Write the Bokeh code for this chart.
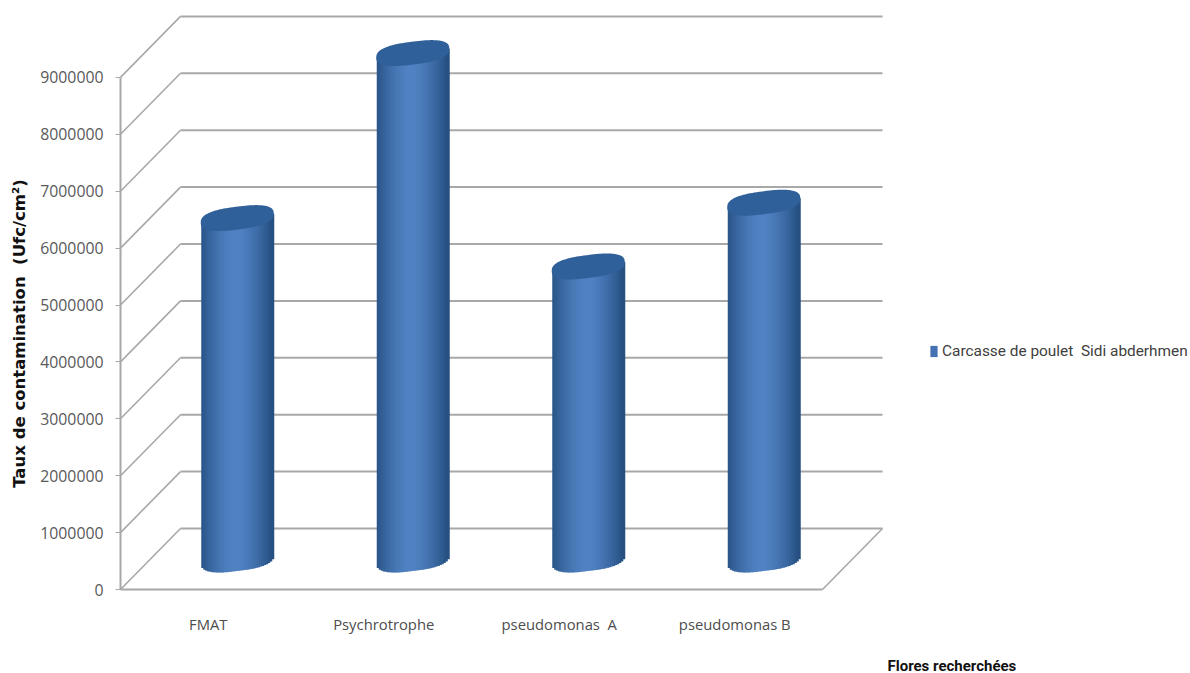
import numpy as np
from bokeh.embed import file_html
from bokeh.models import FixedTicker, Label, Legend, LegendItem, Range1d
from bokeh.plotting import figure
from bokeh.resources import INLINE

categories = ["FMAT", "Psychrotrophe", "pseudomonas\u00a0\u00a0A", "pseudomonas B"]
values = [6000000, 8900000, 5150000, 6270000]
y_ticks = list(range(0, 10000000, 1000000))
series_name = "Carcasse de poulet\u00a0\u00a0Sidi abderhmen"

# Canvas size and the pixel position of the box's front lower left corner
W, H = 1190, 673
ORIGIN_X, ORIGIN_Y = 120, 589
CAT_PX = 175.5          # pixel width of one category
UNIT_PX = 56.9 / 1e6    # pixels per unit of contamination
DEPTH_X, DEPTH_Y = 60, 61


def px_x(px):
    return px / CAT_PX


def px_y(px):
    return px / UNIT_PX


# The frame fills the canvas; both axes are pinned to data positions inside it
p = figure(
    width=W, height=H, output_backend="svg", toolbar_location=None,
    x_range=Range1d(px_x(-ORIGIN_X), px_x(W - ORIGIN_X)),
    y_range=Range1d(px_y(ORIGIN_Y - H), px_y(ORIGIN_Y)),
    min_border=0, outline_line_color=None, background_fill_color="white",
)
p.grid.visible = False

GRID = "#a8a8a8"
n = len(categories)
dx, dy = px_x(DEPTH_X), px_y(DEPTH_Y)

# Back wall, side wall and floor of the 3D box
for t in y_ticks:
    p.line([dx, n + dx], [t + dy, t + dy], line_color=GRID, line_width=2)
    p.line([0, dx], [t, t + dy], line_color=GRID, line_width=1.6)
p.line([n, n + dx], [0, dy], line_color=GRID, line_width=1.6)

# Cylinders: shaded vertical strips closed by a sheared rounded cap and base
HALF_W = 36
MINOR = 11.5
TILT = 4.5
ROUND = 2.6
STRIPS = 36
edges = np.linspace(-1, 1, STRIPS + 1)
mids = (edges[:-1] + edges[1:]) / 2


def rim(u):
    return (1 - np.clip(np.abs(u), 0, 1) ** ROUND) ** (1 / ROUND)


def shade(u):
    # dark at both rims, brightest slightly left of centre
    k = np.clip(1 - abs(u + 0.05) ** 1.6, 0, 1)
    dark = np.array([38, 80, 130])
    light = np.array([81, 131, 196])
    c = dark + (light - dark) * k
    return "#%02x%02x%02x" % tuple(int(v) for v in c)


centres = [i + 0.5 + px_x(29) for i in range(n)]
base = px_y(30)
theta = np.linspace(0, 2 * np.pi, 120)
for cx, v in zip(centres, values):
    lefts = cx + edges[:-1] * px_x(HALF_W)
    rights = cx + edges[1:] * px_x(HALF_W) + px_x(1)
    bottoms = base - px_y(MINOR * rim(mids)) + px_y(TILT * mids)
    tops = v + base + px_y(TILT * mids)
    p.quad(left=lefts, right=rights, bottom=bottoms, top=tops,
           fill_color=[shade(u) for u in mids], line_color=None)
    cu = np.sign(np.cos(theta)) * np.abs(np.cos(theta)) ** (2 / ROUND)
    sv = np.sign(np.sin(theta)) * np.abs(np.sin(theta)) ** (2 / ROUND)
    p.patch(cx + cu * px_x(HALF_W + 0.5),
            v + base + px_y(MINOR * sv + TILT * cu),
            fill_color="#30609a", line_color=None)

swatch = p.vbar(x=[centres[0]], width=0, bottom=[0], top=[0],
                fill_color="#4472b4", line_color=None)

# Axes
yaxis = p.yaxis[0]
yaxis.fixed_location = 0
yaxis.ticker = FixedTicker(ticks=y_ticks)
yaxis.bounds = (0, y_ticks[-1])
yaxis.formatter.use_scientific = False
yaxis.axis_line_color = GRID
yaxis.axis_line_width = 2
yaxis.major_tick_line_color = GRID
yaxis.major_tick_in = 0
yaxis.major_tick_out = 5
yaxis.minor_tick_line_color = None
yaxis.major_label_text_font = "Open Sans"
yaxis.major_label_text_font_size = "15.8px"
yaxis.major_label_text_color = "#595959"
yaxis.major_label_standoff = 12
yaxis.axis_label = "Taux de contamination\u00a0\u00a0(Ufc/cm²)"
yaxis.axis_label_text_font = "DejaVu Sans"
yaxis.axis_label_text_font_style = "bold"
yaxis.axis_label_text_font_size = "16.5px"
yaxis.axis_label_text_color = "#111111"
yaxis.axis_label_standoff = 8

xaxis = p.xaxis[0]
xaxis.fixed_location = 0
positions = [i + 0.5 for i in range(n)]
xaxis.ticker = FixedTicker(ticks=positions)
xaxis.major_label_overrides = dict(zip(positions, categories))
xaxis.bounds = (0, n)
xaxis.axis_line_color = GRID
xaxis.axis_line_width = 2
xaxis.major_tick_line_color = None
xaxis.minor_tick_line_color = None
xaxis.major_label_text_font = "Open Sans"
xaxis.major_label_text_font_size = "14.8px"
xaxis.major_label_text_color = "#4d4d4d"
xaxis.major_label_standoff = 18

# Category-axis title sits to the right, under the legend
p.add_layout(Label(x=px_x(887 - ORIGIN_X), y=px_y(ORIGIN_Y - 674),
                   text="Flores recherchées", text_font="Roboto",
                   text_font_style="bold", text_font_size="15px",
                   text_color="#111111", text_baseline="bottom"))

legend = Legend(items=[LegendItem(label=series_name, renderers=[swatch])],
                location=(929, H - 360),
                border_line_color=None, background_fill_alpha=0,
                glyph_width=9, glyph_height=14, label_standoff=4,
                label_text_font="Roboto", label_text_font_size="15.4px",
                label_text_color="#404040", padding=0, margin=0)
p.add_layout(legend, "center")

open("out.html", "w").write(file_html(p, INLINE))
